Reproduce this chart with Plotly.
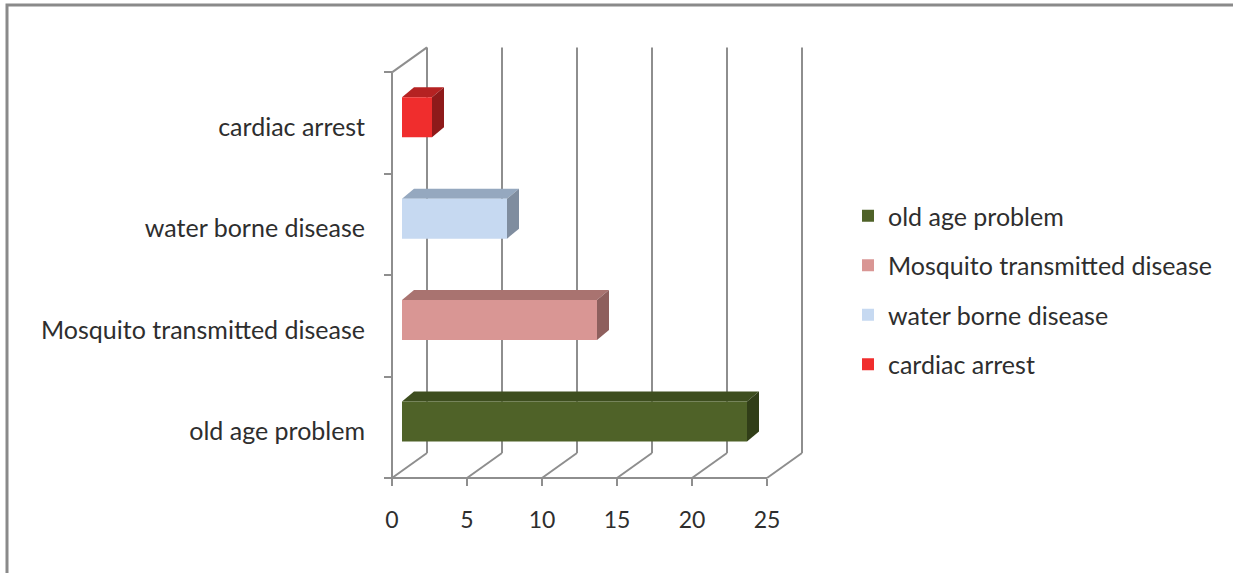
import plotly.graph_objects as go

# ---- data ----
categories = ["old age problem", "Mosquito transmitted disease", "water borne disease", "cardiac arrest"]
values = [23, 13, 7, 2]
front_colors = ["#4F6228", "#D99694", "#C6D9F1", "#F02D2D"]
top_colors = ["#3E4E1F", "#A97370", "#95A8BF", "#B52222"]
side_colors = ["#313E18", "#8E5F5D", "#7F8D9F", "#8E1A1A"]
x_ticks = [0, 5, 10, 15, 20, 25]

# ---- geometry (pixels) ----
W, H = 1233, 573
PXX = 15.0          # px per x unit
PXY = 101.4         # px per category
BAR_X0 = 402.0      # px of value 0 on bar plane
FRONT_X0 = 392.0    # px of value 0 on front plane
BAR_C0 = 421.5      # px (from top) of first category centre, bar plane
FRONT_C0 = 427.3    # px of first category centre, front plane
XR = (-2.0, 28.0)
YR = (-0.8, 3.8)

dom_x = [(BAR_X0 + XR[0] * PXX) / W, (BAR_X0 + XR[1] * PXX) / W]
dom_y = [1 - (BAR_C0 - YR[0] * PXY) / H, 1 - (BAR_C0 - YR[1] * PXY) / H]
sx = (BAR_X0 - FRONT_X0) / PXX
sy = (FRONT_C0 - BAR_C0) / PXY
x2_range = [XR[0] + sx, XR[1] + sx]
y2_range = [YR[0] + sy, YR[1] + sy]

# depth of wall (front -> back) in front-plane units
DX = 35.0 / PXX
DY = 25.0 / PXY
# depth of bars
DXB = 12.0 / PXX
DYB = 10.0 / PXY
HW = 0.197

GRID = "#8E8E8E"
FONT = "Lato"
TXT = "#2E2E2E"

fig = go.Figure()

for i, (cat, v) in enumerate(zip(categories, values)):
    fig.add_trace(go.Bar(
        x=[v], y=[i], orientation="h", width=2 * HW, name=cat,
        marker=dict(color=front_colors[i], line=dict(width=0)),
        legendgroup=cat, xaxis="x", yaxis="y",
        hovertemplate=cat + ": %{x}<extra></extra>",
    ))

# invisible trace carrying the front-plane axes
fig.add_trace(go.Scatter(
    x=values, y=categories, mode="markers", marker=dict(opacity=0),
    showlegend=False, hoverinfo="skip", xaxis="x2", yaxis="y2",
))

shapes = []
line = dict(color=GRID, width=2)
bottom = -0.5
top = len(categories) - 0.5
# front left axis line and front floor edge
shapes.append(dict(type="line", xref="x2", yref="y2", x0=0, x1=0, y0=bottom, y1=top, line=line, layer="below"))
shapes.append(dict(type="line", xref="x2", yref="y2", x0=x_ticks[0], x1=x_ticks[-1], y0=bottom, y1=bottom, line=line, layer="below"))
# left wall top edge
shapes.append(dict(type="line", xref="x2", yref="y2", x0=0, x1=DX, y0=top, y1=top + DY, line=line, layer="below"))
for t in x_ticks:
    shapes.append(dict(type="line", xref="x2", yref="y2", x0=t, x1=t + DX, y0=bottom, y1=bottom + DY, line=line, layer="below"))
    shapes.append(dict(type="line", xref="x2", yref="y2", x0=t + DX, x1=t + DX, y0=bottom + DY, y1=top + DY, line=line, layer="below"))

# 3D faces of bars
for i, v in enumerate(values):
    yt = i + HW
    yb = i - HW
    shapes.append(dict(type="path", xref="x", yref="y", layer="below",
                       path=f"M 0,{yt} L {v},{yt} L {v + DXB},{yt + DYB} L {DXB},{yt + DYB} Z",
                       fillcolor=top_colors[i], line=dict(width=0)))
    shapes.append(dict(type="path", xref="x", yref="y", layer="below",
                       path=f"M {v},{yb} L {v},{yt} L {v + DXB},{yt + DYB} L {v + DXB},{yb + DYB} Z",
                       fillcolor=side_colors[i], line=dict(width=0)))

# outer chart border (top and left visible)
shapes.append(dict(type="rect", xref="paper", yref="paper", x0=7 / W, x1=1.02, y0=-0.02, y1=1 - 5 / H,
                   line=dict(color="#8A8A8A", width=3), layer="below"))

fig.update_layout(
    width=W, height=H,
    margin=dict(l=0, r=0, t=0, b=0),
    paper_bgcolor="white", plot_bgcolor="rgba(0,0,0,0)",
    barmode="overlay",
    showlegend=True,
    font=dict(family=FONT, color=TXT),
    xaxis=dict(domain=dom_x, range=list(XR), visible=False, fixedrange=True),
    yaxis=dict(domain=dom_y, range=list(YR), visible=False, fixedrange=True),
    xaxis2=dict(overlaying="x", anchor="free", position=1 - 478 / H, range=x2_range,
                tickvals=x_ticks, ticks="outside", ticklen=7, tickwidth=2, tickcolor=GRID,
                ticklabelstandoff=14,
                showgrid=False, showline=False, zeroline=False,
                tickfont=dict(family=FONT, size=23, color=TXT), fixedrange=True),
    yaxis2=dict(overlaying="y", anchor="free", position=FRONT_X0 / W, side="left",
                type="category", categoryorder="array", categoryarray=categories,
                range=y2_range, tickson="boundaries", ticks="outside", ticklen=8,
                tickwidth=2, tickcolor=GRID, ticklabelstandoff=27, ticklabelshift=4,
                showgrid=False, showline=False, zeroline=False,
                tickfont=dict(family=FONT, size=25, color=TXT), fixedrange=True),
    legend=dict(x=848 / W, y=1 - 193 / H, xanchor="left", yanchor="top",
                traceorder="grouped", tracegroupgap=14,
                font=dict(family=FONT, size=25, color=TXT),
                bgcolor="rgba(0,0,0,0)"),
    shapes=shapes,
)

fig.write_html("out.html")
